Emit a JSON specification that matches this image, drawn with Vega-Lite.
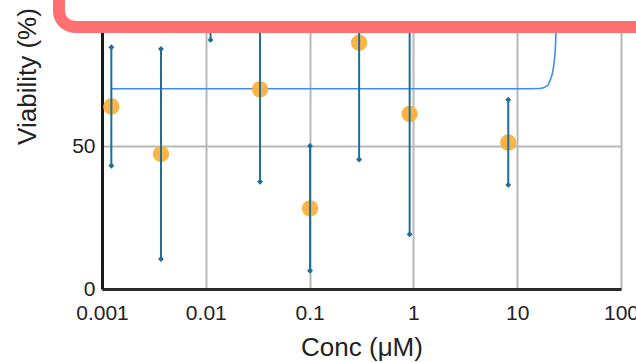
{
  "$schema": "https://vega.github.io/schema/vega-lite/v6.json",
  "width": 519,
  "height": 286,
  "autosize": {"type": "none"},
  "padding": {"left": 102, "top": 3, "right": 15, "bottom": 73},
  "background": "white",
  "config": {"view": {"stroke": null}, "font": "Liberation Sans"},
  "datasets": {
    "obs": [
      {"conc": 0.00123, "mean": 63.8, "lo": 43.1, "hi": 84.5},
      {"conc": 0.0037, "mean": 47.2, "lo": 10.5, "hi": 83.9},
      {"conc": 0.0111, "mean": 105, "lo": 87.1, "hi": 123},
      {"conc": 0.0333, "mean": 69.8, "lo": 37.5, "hi": 102.1},
      {"conc": 0.101, "mean": 28.2, "lo": 6.4, "hi": 50},
      {"conc": 0.3, "mean": 86.1, "lo": 45.3, "hi": 126.9},
      {"conc": 0.92, "mean": 61.2, "lo": 19.1, "hi": 103.3},
      {"conc": 8.2, "mean": 51.2, "lo": 36.4, "hi": 66.2}
    ],
    "fit": [
      {"conc": 0.00123, "v": 70},
      {"conc": 0.01, "v": 70},
      {"conc": 0.1, "v": 70},
      {"conc": 1, "v": 70},
      {"conc": 10, "v": 70},
      {"conc": 16.5, "v": 70.1},
      {"conc": 19.5, "v": 71},
      {"conc": 21, "v": 73.5},
      {"conc": 22, "v": 76},
      {"conc": 22.8, "v": 80},
      {"conc": 23.3, "v": 84},
      {"conc": 23.7, "v": 92},
      {"conc": 24, "v": 105}
    ]
  },
  "layer": [
    {
      "data": {"name": "fit"},
      "mark": {"type": "line", "color": "#3d8ef0", "strokeWidth": 1.6, "clip": true, "interpolate": "monotone"},
      "encoding": {
        "x": {
          "field": "conc", "type": "quantitative",
          "scale": {"type": "log", "domain": [0.001, 100]},
          "axis": {
            "values": [0.001, 0.01, 0.1, 1, 10, 100],
            "labelExpr": "format(datum.value, '~g')",
            "labelFlush": false,
            "labelOverlap": false,
            "title": "Conc (μM)",
            "grid": true, "gridColor": "#b8b8b8", "gridWidth": 2,
            "domainColor": "#2a2a2a", "domainWidth": 3,
            "ticks": false, "tickSize": 0,
            "labelFontSize": 21, "labelColor": "#222", "labelPadding": 13,
            "titleFontSize": 26, "titleFontWeight": "normal", "titleColor": "#222",
            "titleBaseline": "alphabetic", "titleY": 66
          }
        },
        "y": {
          "field": "v", "type": "quantitative",
          "scale": {"domain": [0, 100]},
          "axis": {
            "values": [0, 50],
            "title": "Viability (%)",
            "grid": true, "gridColor": "#b8b8b8", "gridWidth": 2,
            "domainColor": "#1a1a1a", "domainWidth": 3,
            "ticks": false, "tickSize": 0,
            "labelFontSize": 21, "labelColor": "#222", "labelPadding": 7,
            "titleFontSize": 26, "titleFontWeight": "normal", "titleColor": "#222",
            "titleBaseline": "alphabetic", "titleY": 73, "titleX": -67, "titleAngle": -90
          }
        }
      }
    },
    {
      "data": {"name": "obs"},
      "mark": {"type": "point", "filled": true, "color": "#fbb03b", "opacity": 0.95, "size": 270, "clip": true},
      "encoding": {
        "x": {"field": "conc", "type": "quantitative"},
        "y": {"field": "mean", "type": "quantitative"}
      }
    },
    {
      "data": {"name": "obs"},
      "mark": {"type": "rule", "color": "#1f6e98", "strokeWidth": 2, "clip": true},
      "encoding": {
        "x": {"field": "conc", "type": "quantitative"},
        "y": {"field": "lo", "type": "quantitative"},
        "y2": {"field": "hi"}
      }
    },
    {
      "data": {"name": "obs"},
      "mark": {"type": "point", "shape": "diamond", "filled": true, "color": "#1f6e98", "opacity": 1, "size": 35, "clip": true},
      "encoding": {
        "x": {"field": "conc", "type": "quantitative"},
        "y": {"field": "lo", "type": "quantitative"}
      }
    },
    {
      "data": {"name": "obs"},
      "mark": {"type": "point", "shape": "diamond", "filled": true, "color": "#1f6e98", "opacity": 1, "size": 35, "clip": true},
      "encoding": {
        "x": {"field": "conc", "type": "quantitative"},
        "y": {"field": "hi", "type": "quantitative"}
      }
    },
    {
      "data": {"values": [{}]},
      "mark": {"type": "rect", "fill": "white", "stroke": "#ff7070", "strokeWidth": 12, "cornerRadius": 16, "clip": false},
      "encoding": {
        "x": {"datum": 0.000385, "type": "quantitative"},
        "x2": {"datum": 3000},
        "y": {"datum": 91.6, "type": "quantitative"},
        "y2": {"datum": 140}
      }
    }
  ]
}
